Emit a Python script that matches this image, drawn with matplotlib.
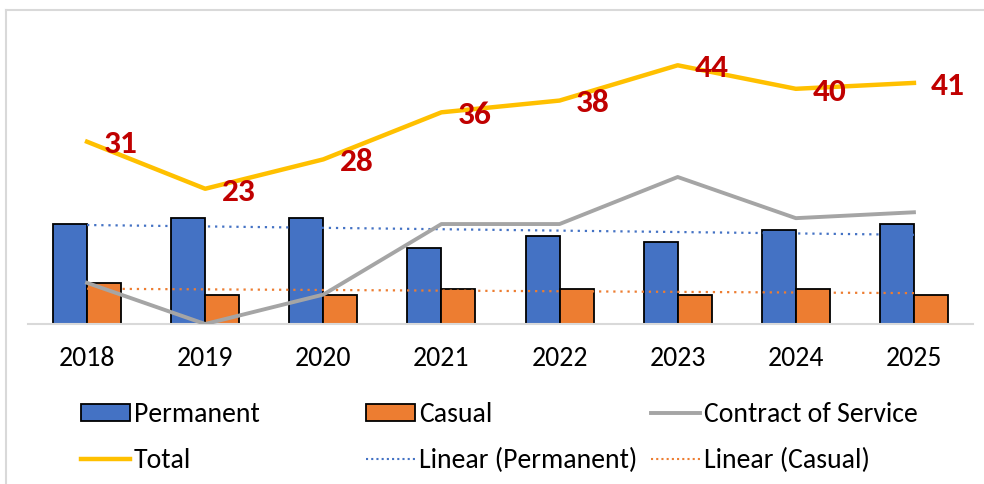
import matplotlib.pyplot as plt
import numpy as np
from matplotlib.lines import Line2D
from matplotlib.patches import Patch

plt.rcParams['font.family'] = ['Carlito', 'Lato', 'DejaVu Sans']

# data
years = ["2018", "2019", "2020", "2021", "2022", "2023", "2024", "2025"]
permanent = [17, 18, 18, 13, 15, 14, 16, 17]
casual = [7, 5, 5, 6, 6, 5, 6, 5]
contract = [7, 0, 5, 17, 17, 25, 18, 19]
total = [31, 23, 28, 36, 38, 44, 40, 41]

blue = "#4472C4"
orange = "#ED7D31"
grey = "#A5A5A5"
gold = "#FFC000"
red = "#C00000"

x = np.arange(len(years))
w = 0.288

fig = plt.figure(figsize=(9.84, 4.84), dpi=100)
ax = fig.add_axes([28 / 984, 160 / 484, 945 / 984, 294 / 484])

ax.bar(x - w / 2, permanent, w, color=blue, edgecolor="black", linewidth=1.3, zorder=2)
ax.bar(x + w / 2, casual, w, color=orange, edgecolor="black", linewidth=1.3, zorder=2)

# linear trendlines, like excel's
for vals, col in [(permanent, blue), (casual, orange)]:
    k, b = np.polyfit(x, vals, 1)
    ax.plot(x, k * x + b, color=col, linestyle=(0, (1, 2.2)), linewidth=1.6, zorder=3)

ax.plot(x, contract, color=grey, linewidth=2.8, zorder=4)
ax.plot(x, total, color=gold, linewidth=3.2, zorder=5)

for xi, v in zip(x, total):
    ax.annotate(str(v), (xi, v), xytext=(12, -2), textcoords="offset points",
                ha="left", va="center", color=red, fontsize=24, fontweight="bold", zorder=6)

ax.set_xlim(-0.5, len(years) - 0.5)
ax.set_ylim(0, 50)
ax.set_xticks(x)
ax.set_xticklabels(years, fontsize=20)
ax.tick_params(axis="x", length=0, pad=16)
ax.set_yticks([])
for s in ["top", "right", "left"]:
    ax.spines[s].set_visible(False)
ax.spines["bottom"].set_color("#D9D9D9")
ax.spines["bottom"].set_linewidth(1.5)

# legend: three columns, each its own legend so spacing is even like excel
cols = [
    [Patch(facecolor=blue, edgecolor="black", linewidth=1.3, label="Permanent"),
     Line2D([], [], color=gold, linewidth=3.2, label="Total")],
    [Patch(facecolor=orange, edgecolor="black", linewidth=1.3, label="Casual"),
     Line2D([], [], color=blue, linestyle=(0, (1, 1.5)), linewidth=1.5, label="Linear (Permanent)")],
    [Line2D([], [], color=grey, linewidth=2.8, label="Contract of Service"),
     Line2D([], [], color=orange, linestyle=(0, (1, 1.5)), linewidth=1.5, label="Linear (Casual)")],
]
for i, handles in enumerate(cols):
    leg = fig.legend(handles=handles, loc="upper left",
                     bbox_to_anchor=((70 + i * 285) / 984, 1 - 391 / 484),
                     frameon=False, fontsize=20, handlelength=1.75, handleheight=0.55,
                     handletextpad=0.15, labelspacing=0.74, borderaxespad=0)

# light frame of the chart area
fig.add_artist(Line2D([6 / 984, 1], [1 - 10 / 484, 1 - 10 / 484], color="#D9D9D9", linewidth=1.5))
fig.add_artist(Line2D([6 / 984, 6 / 984], [0, 1 - 10 / 484], color="#D9D9D9", linewidth=1.5))

fig.savefig("out.png", dpi=100)
